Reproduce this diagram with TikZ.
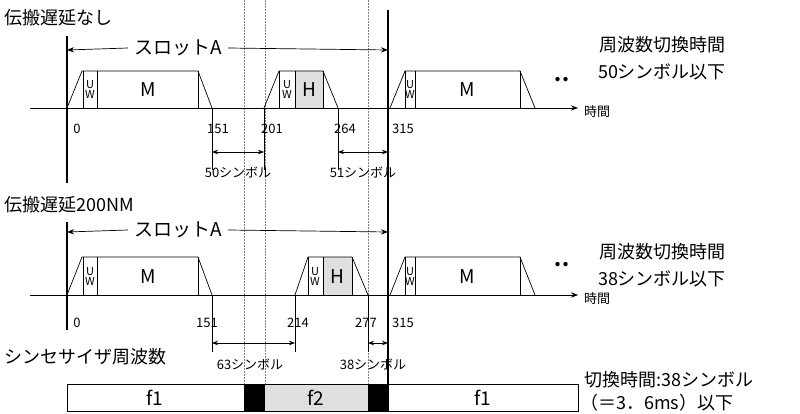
\documentclass[tikz,border=0pt]{standalone}
\usepackage{fontspec}
\setmainfont{Noto Sans CJK JP}
\usetikzlibrary{arrows.meta}
\begin{document}
\begin{tikzpicture}[x=1pt,y=-1pt,
  thick line/.style={line width=2.2pt},
  dotv/.style={densely dotted,gray,line width=0.5pt},
  axis/.style={line width=0.8pt,-{Stealth[length=7pt]}},
  dbl/.style={line width=0.7pt,{Stealth[length=6pt]}-{Stealth[length=6pt]}},
  larr/.style={line width=0.7pt,{Stealth[length=7pt]}-},
  rarr/.style={line width=0.7pt,-{Stealth[length=7pt]}},
  burst/.style={line width=0.7pt},
  tl/.style={font=\fontsize{18}{18}\selectfont,anchor=west,inner sep=0},
  rl/.style={font=\fontsize{18}{18}\selectfont,inner sep=0},
  num/.style={font=\fontsize{13}{13}\selectfont,inner sep=0},
  uw/.style={font=\fontsize{11}{10}\selectfont,inner sep=0,align=center},
  big/.style={font=\fontsize{19}{19}\selectfont,inner sep=0},
  dots/.style={font=\fontsize{20}{20}\selectfont\bfseries,inner sep=0}]
\useasboundingbox (0,0) rectangle (800,414);
% dotted verticals
\foreach \x in {244,265,368} \draw[dotv] (\x,0) -- (\x,384);
% ===== top =====
\node[tl] (t1) at (4,18) {伝搬遅延なし};
\coordinate (a0) at (30,108); \coordinate (a1) at (578,108);
\draw[axis] (a0) -- (a1);
\node[num,anchor=west] (jk1) at (584,112) {時間};
\draw[thick line] (67,36) -- (67,183);
\draw[thick line] (388,10) -- (388,412);
\node[big,inner xsep=6pt] (sa1) at (178,48) {スロットA};
\coordinate (s1l) at (67,50); \coordinate (s1r) at (388,50);
\draw[larr] (s1l) -- (sa1.west); \draw[rarr] (sa1.east) -- (s1r);
% bursts top
\draw[burst] (67,108) -- (82,71) -- (198,71) -- (212,108);
\draw[burst] (83,71) -- (83,108) (97,71) -- (97,108) (198,71) -- (198,108);
\node[uw] at (90,89) {U\\W}; \node[big] at (148,90) {M};
\fill[gray!25] (295,71) rectangle (323,108);
\draw[burst] (264,108) -- (279,71) -- (323,71) -- (338,108);
\draw[burst] (279,71) -- (279,108) (295,71) -- (295,108) (323,71) -- (323,108);
\node[uw] at (287,89) {U\\W}; \node[big] at (309,90) {H};
\draw[burst] (390,108) -- (405,71) -- (520,71) -- (535,108);
\draw[burst] (405,71) -- (405,108) (415,71) -- (415,108) (520,71) -- (520,108);
\node[uw] at (410,89) {U\\W}; \node[big] at (467,90) {M};
\node[dots] at (562,80) {..};
\node[num] at (77,129) {0};
\node[num] at (218,129) {151}; \node[num] at (272,129) {201};
\node[num] at (345,129) {264}; \node[num] at (403,129) {315};
\foreach \x in {212,264,338} \draw[line width=0.6pt] (\x,108) -- (\x,170);
\draw[dbl] (212,152) -- (264,152); \draw[dbl] (338,152) -- (388,152);
\node[num] at (238,172) {50シンボル}; \node[num] at (363,172) {51シンボル};
\node[rl] at (662,45) {周波数切換時間};
\node[rl] at (662,72) {50シンボル以下};
% ===== middle =====
\node[tl] (t2) at (4,205) {伝搬遅延200NM};
\draw[axis] (30,295) -- (578,295);
\node[num,anchor=west] at (584,299) {時間};
\draw[thick line] (67,222) -- (67,330);
\node[big,inner xsep=6pt] (sa2) at (178,230) {スロットA};
\draw[larr] (67,232) -- (sa2.west);
\draw[rarr] (sa2.east) -- (388,232);
\draw[burst] (67,295) -- (82,257) -- (198,257) -- (212,295);
\draw[burst] (83,257) -- (83,295) (97,257) -- (97,295) (198,257) -- (198,295);
\node[uw] at (90,276) {U\\W}; \node[big] at (148,277) {M};
\fill[gray!25] (323,257) rectangle (352,295);
\draw[burst] (295,295) -- (308,257) -- (352,257) -- (368,295);
\draw[burst] (308,257) -- (308,295) (323,257) -- (323,295) (352,257) -- (352,295);
\node[uw] at (315,276) {U\\W}; \node[big] at (337,277) {H};
\draw[burst] (390,295) -- (405,257) -- (520,257) -- (535,295);
\draw[burst] (405,257) -- (405,295) (415,257) -- (415,295) (520,257) -- (520,295);
\node[uw] at (410,276) {U\\W}; \node[big] at (467,277) {M};
\node[dots] at (562,265) {..};
\node[num] at (77,323) {0};
\node[num] at (207,323) {151}; \node[num] at (298,323) {214};
\node[num] at (366,323) {277}; \node[num] at (403,323) {315};
\foreach \x in {212,295,368} \draw[line width=0.6pt] (\x,295) -- (\x,352);
\draw[dbl] (212,343) -- (295,343); \draw[dbl] (368,343) -- (388,343);
\node[num] at (250,364) {63シンボル}; \node[num] at (373,364) {38シンボル};
\node[rl] at (662,252) {周波数切換時間};
\node[rl] at (662,279) {38シンボル以下};
% ===== bottom =====
\node[tl] (t3) at (4,357) {シンセサイザ周波数};
\fill[black] (244,384) rectangle (265,411);
\fill[gray!25] (265,384) rectangle (368,411);
\fill[black] (368,384) rectangle (388,411);
\draw[line width=0.7pt] (67,384) rectangle (578,411);
\node[big] at (155,398) {f1}; \node[big] at (316,398) {f2}; \node[big] at (483,398) {f1};
\node[rl,anchor=west] at (584,380) {切換時間:38シンボル};
\node[rl,anchor=west] at (580,403) {（＝3．6ms）以下};
\end{tikzpicture}
\end{document}
